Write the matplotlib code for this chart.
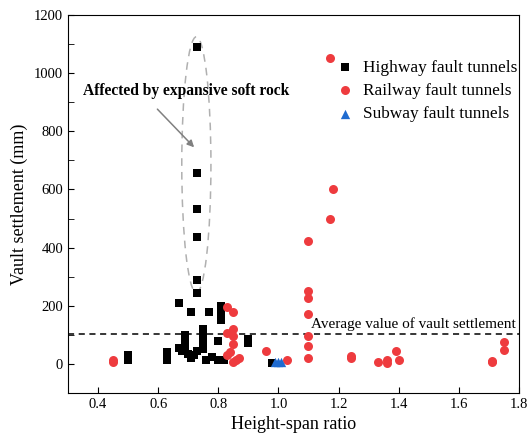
import matplotlib.pyplot as plt
from matplotlib.patches import Ellipse
from matplotlib.ticker import MultipleLocator

# highway fault tunnels
hw_x = [0.73, 0.73, 0.73, 0.73, 0.73, 0.73, 0.67, 0.71, 0.77, 0.81, 0.81, 0.81,
        0.81, 0.69, 0.69, 0.69, 0.75, 0.75, 0.75, 0.75, 0.75, 0.80, 0.90, 0.90,
        0.63, 0.63, 0.63, 0.67, 0.70, 0.71, 0.73, 0.76, 0.78, 0.80, 0.82, 0.50,
        0.50, 0.98, 0.68, 0.72]
hw_y = [1090, 658, 533, 435, 288, 245, 210, 180, 178, 200, 185, 165,
        150, 100, 85, 60, 120, 100, 80, 65, 50, 80, 85, 72,
        40, 25, 12, 55, 35, 20, 45, 15, 25, 15, 12, 30,
        12, 3, 45, 30]

# railway fault tunnels
rw_x = [1.17, 1.18, 1.17, 1.10, 1.10, 1.10, 1.10, 1.10, 1.10, 1.10, 0.83, 0.85,
        0.85, 0.85, 0.85, 0.83, 0.84, 0.83, 0.86, 0.87, 0.85, 0.96, 1.03, 1.24,
        1.24, 1.33, 1.36, 1.36, 1.39, 1.40, 1.71, 1.71, 1.75, 1.75, 0.45, 0.45]
rw_y = [1052, 600, 500, 421, 252, 228, 172, 97, 62, 22, 196, 180,
        121, 95, 69, 107, 41, 31, 14, 21, 7, 45, 14, 22,
        28, 7, 14, 3, 45, 14, 10, 5, 75, 48, 8, 13]

# subway fault tunnels
sw_x = [0.99, 1.00, 1.01]
sw_y = [5, 8, 5]

avg_settlement = 103

plt.rcParams['font.family'] = ['Liberation Serif', 'DejaVu Serif']
plt.rcParams['mathtext.fontset'] = 'stix'

fig = plt.figure(figsize=(5.29, 4.34), dpi=100)
ax = fig.add_axes([0.1285, 0.0945, 0.8525, 0.871])

ax.scatter(hw_x, hw_y, marker='s', s=30, color='black', linewidths=0,
           label='Highway fault tunnels', zorder=3)
ax.scatter(rw_x, rw_y, marker='o', s=42, color='#EE3B3E', linewidths=0,
           label='Railway fault tunnels', zorder=3)
ax.scatter(sw_x, sw_y, marker='^', s=45, color='#1F6BD0', linewidths=0,
           label='Subway fault tunnels', zorder=4)

ax.axhline(avg_settlement, color='black', linestyle='--', linewidth=1.1,
           dashes=(4, 3), zorder=2)
ax.text(1.79, avg_settlement + 10, 'Average value of vault settlement',
        ha='right', va='bottom', fontsize=11)

# dashed ellipse round the soft-rock group
ell = Ellipse((0.727, 685), 0.097, 880, fill=False,
              edgecolor='#B0B0B0', linestyle=(0, (5, 4)), linewidth=1.1)
ax.add_patch(ell)
ax.annotate('', xy=(0.726, 738), xytext=(0.591, 883),
            arrowprops=dict(arrowstyle='-|>', color='#808080', lw=1.1,
                            mutation_scale=10))
ax.text(0.35, 940, 'Affected by expansive soft rock', fontsize=11.2,
        fontweight='bold', ha='left', va='center')

ax.set_xlim(0.3, 1.8)
ax.set_ylim(-100, 1200)
ax.yaxis.set_major_locator(MultipleLocator(200))
ax.yaxis.set_minor_locator(MultipleLocator(100))
ax.tick_params(which='both', direction='in', labelsize=10.5, length=4)
ax.set_xticks([0.4, 0.6, 0.8, 1.0, 1.2, 1.4, 1.6, 1.8])

ax.set_xlabel('Height-span ratio', fontsize=13)
ax.set_ylabel('Vault settlement (mm)', fontsize=13)

ax.legend(loc='upper left', bbox_to_anchor=(0.581, 0.9), frameon=False,
          fontsize=12.4, handletextpad=0.5, handlelength=1.0,
          labelspacing=0.42, borderaxespad=0, scatterpoints=1)

fig.savefig('out.png', dpi=100)
